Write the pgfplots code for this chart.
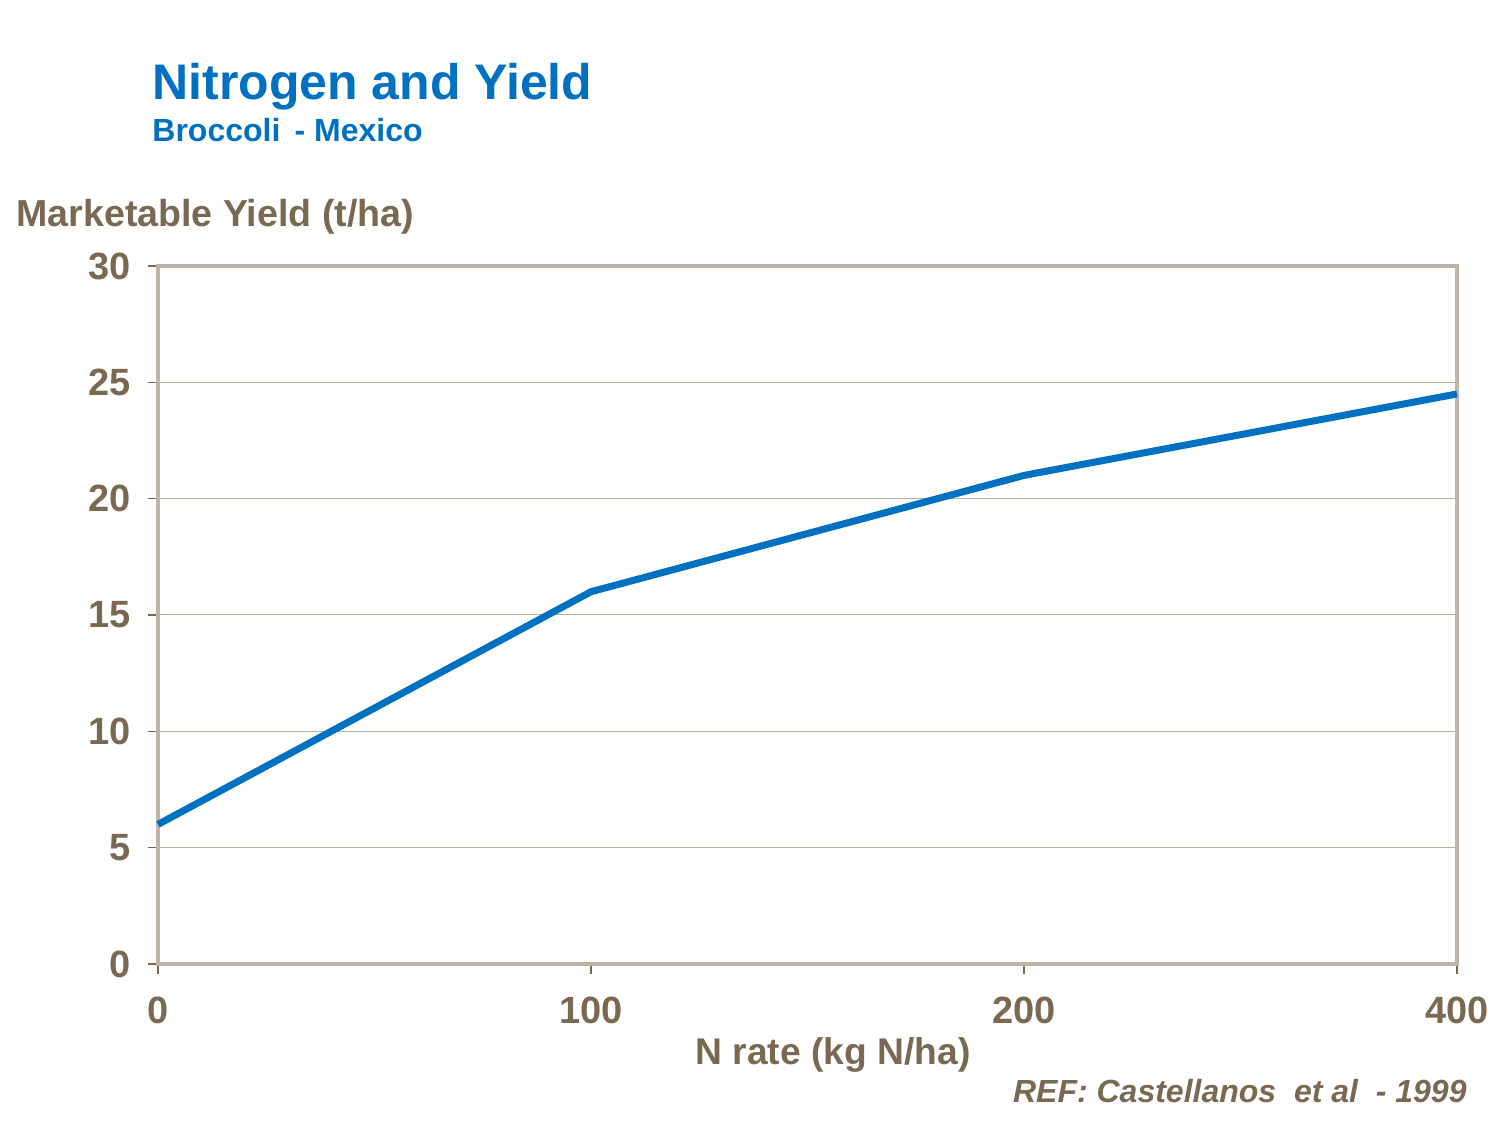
\documentclass[border=0pt]{standalone}
\usepackage{pgfplots}
\pgfplotsset{compat=1.18}
\usepackage{fontspec}
\setmainfont{Liberation Sans}
\definecolor{titleblue}{HTML}{0070C0}
\definecolor{txtbrown}{HTML}{7A6952}
\definecolor{framegray}{HTML}{BFB4A7}
\definecolor{gridtan}{HTML}{BBAE9E}
\begin{document}
\begin{tikzpicture}
\useasboundingbox (0pt,0pt) rectangle (750pt,562.5pt);
\begin{axis}[
    at={(79pt,80.5pt)}, anchor=south west,
    scale only axis,
    width=649.5pt, height=349pt,
    xmin=0, xmax=3, ymin=0, ymax=30,
    xtick={0,1,2,3}, xticklabels={0,100,200,400},
    ytick={0,5,...,30},
    ymajorgrids,
    grid style={gridtan, line width=0.5pt},
    axis line style={framegray, line width=2pt},
    tick style={txtbrown, line width=0.6pt},
    tick align=outside,
    major tick length=5pt,
    tick pos=left,
    /pgf/number format/assume math mode=true,
    ticklabel style={font=\bfseries\fontsize{19}{19}\selectfont, text=txtbrown},
    xticklabel style={yshift=-8pt},
    yticklabel style={xshift=-5pt},
    clip=false,
]
\addplot[titleblue, line width=3.5pt, line join=round] coordinates {
    (0,6) (1,16) (2,21) (3,24.5)
};
\end{axis}
\node[anchor=base west, inner sep=0, text=titleblue, font=\bfseries\fontsize{25}{26}\selectfont] at (76pt,512.5pt) {Nitrogen and Yield};
\node[anchor=base west, inner sep=0, text=titleblue, font=\bfseries\fontsize{16}{16}\selectfont] at (76pt,491.5pt) {Broccoli \,- Mexico};
\node[anchor=base west, inner sep=0, text=txtbrown, font=\bfseries\fontsize{18.8}{19}\selectfont] at (8pt,449pt) {Marketable Yield (t/ha)};
\node[anchor=base, inner sep=0, text=txtbrown, font=\bfseries\fontsize{18.6}{19}\selectfont] at (416.5pt,30pt) {N rate (kg N/ha)};
\node[anchor=base east, inner sep=0, text=txtbrown, font=\bfseries\itshape\fontsize{16}{16}\selectfont] at (733.5pt,11pt) {REF: Castellanos \ et al \ - 1999};
\end{tikzpicture}
\end{document}
